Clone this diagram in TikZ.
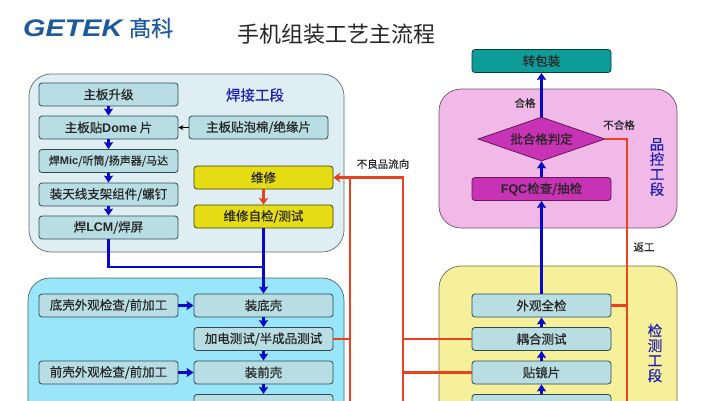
\documentclass[tikz,border=0pt]{standalone}
\usepackage{fontspec}
\setmainfont{Noto Sans CJK SC}
\newfontfamily\latinb{Liberation Sans}
\newfontfamily\heavycn[FakeBold=0.5]{Noto Sans CJK SC}
\usetikzlibrary{arrows.meta,shapes.geometric}
\definecolor{boxfill}{HTML}{B8DEE4}
\definecolor{boxline}{HTML}{2F4A55}
\definecolor{panelA}{HTML}{DFEEF3}
\definecolor{panelB}{HTML}{99E6FB}
\definecolor{panelC}{HTML}{F0B9E8}
\definecolor{panelD}{HTML}{F6F09B}
\definecolor{flowblue}{HTML}{0808C8}
\definecolor{flowred}{HTML}{E8431C}
\definecolor{labelblue}{HTML}{2020B0}
\definecolor{logoblue}{HTML}{1C5A9C}
\definecolor{magentabox}{HTML}{C832B4}
\definecolor{yellowbox}{HTML}{E6DC14}
\definecolor{tealbox}{HTML}{0E9C98}
\tikzset{
 panel/.style={draw=#1!45!black,line width=.7pt,rounded corners=22pt},
 stepbox/.style={draw=boxline,line width=.8pt,fill=boxfill,rounded corners=3pt,minimum width=139pt,minimum height=23pt,inner sep=0pt,font=\heavycn\fontsize{12.5}{14}\selectfont,text=black!85},
 bluearrow/.style={draw=flowblue,line width=2.8pt,-{Stealth[length=7pt,width=9pt,inset=1pt]}},
 blueline/.style={draw=flowblue,line width=2.8pt},
 redline/.style={draw=flowred,line width=2.8pt},
 redarrow/.style={draw=flowred,line width=2.8pt,-{Stealth[length=7pt,width=10pt]}},
 note/.style={font=\heavycn\fontsize{10.5}{12}\selectfont,text=black!85,inner sep=0pt},
 stage/.style={font=\heavycn\fontsize{14.5}{16}\selectfont,text=labelblue,inner sep=0pt,align=center},
}
\begin{document}
\begin{tikzpicture}[x=1pt,y=-1pt]
\useasboundingbox (0,0) rectangle (722,400);
\clip (0,0) rectangle (722,400);
\fill[white] (0,0) rectangle (722,400);
% panels
\draw[panel=panelA,fill=panelA] (29,74) rectangle (344,252);
\draw[panel=panelB,fill=panelB] (28,278) rectangle (344,440);
\draw[panel=panelC,fill=panelC] (439,89) rectangle (677,228);
\draw[panel=panelD,fill=panelD] (439,266) rectangle (677,440);
% logo and title
\node[inner sep=0pt,anchor=west,text=logoblue] (logo) at (23,28) {\scalebox{1.2}[1]{\latinb\fontsize{24}{26}\selectfont\bfseries\itshape GETEK}};
\node[inner sep=0pt,anchor=west,text=logoblue,font=\heavycn\fontsize{22}{24}\selectfont] (logocn) at (129,28) {髙科};
\node[inner sep=0pt,font=\fontsize{22}{24}\selectfont,text=black!85] (title) at (336,34) {手机组装工艺主流程};
% welding stage
\node[stepbox] (a1) at (108.5,94.5) {主板升级};
\node[stepbox] (a2) at (108.5,127.5) {主板贴{\latinb\bfseries Dome} 片};
\node[stepbox,font=\heavycn\fontsize{11}{13}\selectfont] (a3) at (108.5,161) {焊{\latinb\bfseries Mic}/听筒/扬声器/马达};
\node[stepbox] (a4) at (108.5,194.5) {装天线支架组件/螺钉};
\node[stepbox] (a5) at (108.5,227.5) {焊{\latinb\bfseries LCM}/焊屏};
\node[stepbox] (a6) at (258.5,127.5) {主板贴泡棉/绝缘片};
\node[stepbox,fill=yellowbox,draw=black!70!yellowbox] (r1) at (263.5,177.5) {维修};
\node[stepbox,fill=yellowbox,draw=black!70!yellowbox] (r2) at (263.5,216.5) {维修自检/测试};
\node[stage] (s1) at (255,95) {焊接工段};
% assembly stage
\node[stepbox] (b1) at (108.5,305.5) {底壳外观检查/前加工};
\node[stepbox] (b2) at (263.5,305.5) {装底壳};
\node[stepbox] (b3) at (263.5,339) {加电测试/半成品测试};
\node[stepbox] (b4) at (108.5,372.5) {前壳外观检查/前加工};
\node[stepbox] (b5) at (263.5,372.5) {装前壳};
\node[stepbox,anchor=north] (b6) at (263.5,394) {};
% right column
\node[stepbox,fill=tealbox,draw=black!60!tealbox] (c1) at (541.5,61) {转包装};
\node[diamond,draw=black!50!magentabox,line width=.8pt,fill=magentabox,minimum width=127pt,minimum height=44pt,inner sep=0pt,aspect=2.9,font=\heavycn\fontsize{12.5}{14}\selectfont,text=black!85] (c2) at (541.5,139) {批合格判定};
\node[stepbox,fill=magentabox,draw=black!50!magentabox] (c3) at (541.5,189) {{\latinb\bfseries FQC}检查/抽检};
\node[stepbox] (d1) at (541.5,305.5) {外观全检};
\node[stepbox] (d2) at (541.5,339) {耦合测试};
\node[stepbox] (d3) at (541.5,372.5) {贴镜片};
\node[stepbox,anchor=north] (d4) at (541.5,394) {};
\node[stage] (s2) at (657,167) {品\\[-1pt]控\\[-1pt]工\\[-1pt]段};
\node[stage] (s3) at (655,353) {检\\[-1pt]测\\[-1pt]工\\[-1pt]段};
% labels
\node[note] (n1) at (383,164) {不良品流向};
\node[note] (n2) at (525,103) {合格};
\node[note] (n3) at (619,125) {不合格};
\node[note] (n4) at (644,247) {返工};
% junction coordinates
\coordinate (j1) at (108.5,267);
\coordinate (j2) at (r2.south |- j1);
\coordinate (t1) at (350,177.5);
\coordinate (t2) at (403,177.5);
\coordinate (u1) at (350,402);
\coordinate (u2) at (403,402);
\coordinate (k1) at (627,139);
\coordinate (k2) at (627,402);
% red flows
\draw[redline] (u1) -- (t1);
\draw[redline] (u2) -- (t2) -- (t1);
\draw[redarrow] (t1) -- (r1.east);
\draw[redarrow] (r1.south) -- (r2.north);
\draw[redline] (b3.east) -- (b3.east -| t1);
\draw[redline] (d2.west) -- (d2.west -| t2);
\draw[redline] (d3.west) -- (d3.west -| t2);
\draw[redline] (c2.east) -- (k1) -- (k2);
\draw[redline] (d1.east) -- (d1.east -| k1);
% blue flows
\draw[bluearrow] (a1) -- (a2);
\draw[bluearrow] (a2) -- (a3);
\draw[bluearrow] (a3) -- (a4);
\draw[bluearrow] (a4) -- (a5);
\draw[draw=black,line width=1pt,-{Stealth[length=5pt,width=5pt]}] (a6) -- (a2);
\draw[blueline] (a5.south) -- (j1) -- (j2);
\draw[bluearrow] (r2.south) -- (b2.north);
\draw[bluearrow] (b1) -- (b2);
\draw[bluearrow] (b2) -- (b3);
\draw[bluearrow] (b3) -- (b5);
\draw[bluearrow] (b4) -- (b5);
\draw[bluearrow] (b5) -- (b6);
\draw[bluearrow] (c2.north) -- (c1.south);
\draw[bluearrow] (c3.north) -- (c2.south);
\draw[bluearrow] (d1.north) -- (c3.south);
\draw[bluearrow] (d2) -- (d1);
\draw[bluearrow] (d3) -- (d2);
\draw[bluearrow] (d4) -- (d3);
\end{tikzpicture}
\end{document}
